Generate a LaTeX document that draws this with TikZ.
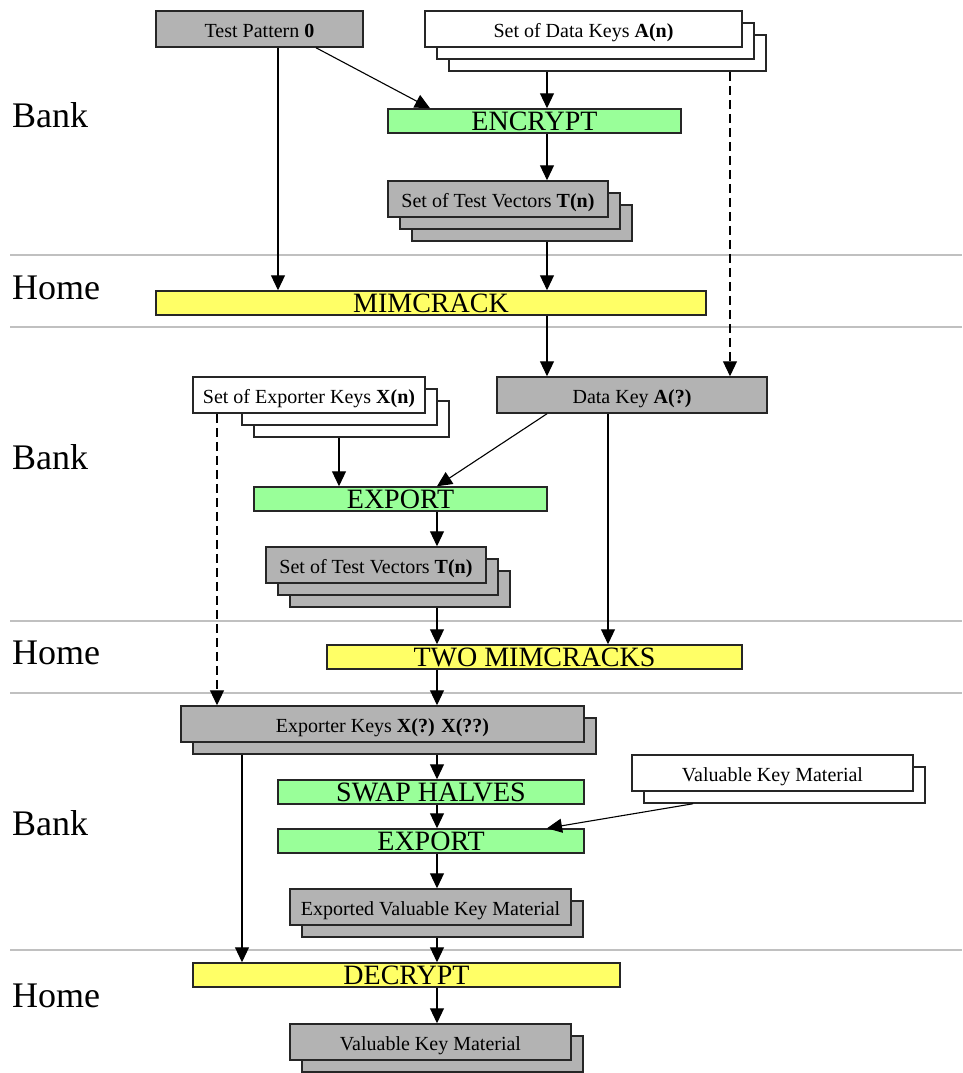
\documentclass[tikz,border=0pt]{standalone}
\usepackage{fontspec}
\setmainfont{Liberation Serif}
\usetikzlibrary{arrows.meta,shadows}
\usetikzlibrary{positioning}

\definecolor{boxgray}{HTML}{B3B3B3}
\definecolor{stepgreen}{HTML}{99FF99}
\definecolor{crackyellow}{HTML}{FFFF66}
\definecolor{bandgray}{HTML}{C0C0C0}

\tikzset{
  doc/.style={draw=black!85,line width=1.5pt,inner sep=0pt,minimum height=36pt,
    text height=16.5pt,text depth=0pt,font=\fontsize{20}{22}\selectfont},
  graydoc/.style={doc,fill=boxgray},
  whitedoc/.style={doc,fill=white},
  stepbox/.style={draw=black!85,line width=1.5pt,inner sep=0pt,minimum height=24pt,
    text height=19.5pt,text depth=0pt,font=\fontsize{28}{30}\selectfont},
  encbox/.style={stepbox,fill=stepgreen},
  crackbox/.style={stepbox,fill=crackyellow},
  one copy/.style={copy shadow={shadow xshift=12pt,shadow yshift=-12pt}},
  two copies/.style={copy shadow={shadow xshift=24pt,shadow yshift=-24pt},
    copy shadow={shadow xshift=12pt,shadow yshift=-12pt}},
  zone/.style={anchor=base west,inner sep=0pt,font=\fontsize{36}{40}\selectfont},
  band/.style={draw=bandgray,line width=1.5pt},
  flow/.style={line width=1.1pt,-{Triangle[length=15pt,width=14pt]}},
  dashflow/.style={flow,dash pattern=on 9pt off 5pt}
}

\begin{document}
\begin{tikzpicture}[x=1pt,y=-1pt]
  \useasboundingbox (0,0) rectangle (962,1073);
  % Bank / Home separators
  \draw[band] (10,255) -- (962,255);
  \draw[band] (10,327) -- (962,327);
  \draw[band] (10,621) -- (962,621);
  \draw[band] (10,693) -- (962,693);
  \draw[band] (10,950) -- (962,950);
  \node[zone] (bank1) at (12,127) {Bank};
  \node[zone] (home1) at (12,299) {Home};
  \node[zone] (bank2) at (12,469) {Bank};
  \node[zone] (home2) at (12,664) {Home};
  \node[zone] (bank3) at (12,835) {Bank};
  \node[zone] (home3) at (12,1007) {Home};
  % Place the boxes
  \node[graydoc,minimum width=207pt] (tp) at (259.5,29) {Test Pattern \textbf{0}};
  \node[whitedoc,two copies,minimum width=317pt] (dk) at (583.5,29) {Set of Data Keys \textbf{A(n)}};
  \node[encbox,minimum width=293pt] (enc) at (534.5,121) {ENCRYPT};
  \node[graydoc,two copies,minimum width=220pt] (tv1) at (498,199) {Set of Test Vectors \textbf{T(n)}};
  \node[crackbox,minimum width=550pt] (mim) at (431,303) {MIMCRACK};
  % the exporter key stack is narrower behind its front sheet
  \draw[line width=1.5pt,draw=black!85,fill=white] (254,401) rectangle (449,437);
  \draw[line width=1.5pt,draw=black!85,fill=white] (242,389) rectangle (437,425);
  \node[whitedoc,minimum width=232pt] (xk) at (309,395) {Set of Exporter Keys \textbf{X(n)}};
  \node[graydoc,minimum width=270pt] (dka) at (632,395) {Data Key \textbf{A(?)}};
  \node[encbox,minimum width=293pt] (exp1) at (400.5,499) {EXPORT};
  \node[graydoc,two copies,minimum width=220pt] (tv2) at (376,565) {Set of Test Vectors \textbf{T(n)}};
  \node[crackbox,minimum width=415pt] (two) at (534.5,657) {TWO MIMCRACKS};
  \node[graydoc,one copy,minimum width=403pt] (xq) at (382.5,724) {Exporter Keys \textbf{X(?) X(??)}};
  \node[encbox,minimum width=306pt] (swap) at (431,792) {SWAP HALVES};
  \node[whitedoc,one copy,minimum width=281pt] (vkw) at (772.5,773) {Valuable Key Material};
  \node[encbox,minimum width=306pt] (exp2) at (431,841) {EXPORT};
  \node[graydoc,one copy,minimum width=281pt] (evk) at (430.5,907) {Exported Valuable Key Material};
  \node[crackbox,minimum width=427pt] (dec) at (406.5,975) {DECRYPT};
  \node[graydoc,one copy,minimum width=281pt] (vk) at (430.5,1042) {Valuable Key Material};
  % Bottom edges of the stacks
  \coordinate (dk back) at ([yshift=-24pt]dk.south);
  \coordinate (tv1 back) at ([yshift=-24pt]tv1.south);
  \coordinate (xk back) at ([yshift=-24pt]xk.south);
  \coordinate (tv2 back) at ([yshift=-24pt]tv2.south);
  \coordinate (xq back) at ([yshift=-12pt]xq.south);
  \coordinate (vkw back) at ([yshift=-12pt]vkw.south);
  \coordinate (evk back) at ([yshift=-12pt]evk.south);
  % Columns of the vertical connectors
  \coordinate (colTP) at (278,0);
  \coordinate (colA) at (547,0);
  \coordinate (colD) at (730,0);
  \coordinate (colX) at (217,0);
  \coordinate (colXk) at (339,0);
  \coordinate (colB) at (437,0);
  \coordinate (colE) at (608,0);
  \coordinate (colL) at (242,0);
  % First bank step and first mimcrack
  \draw[flow] (tp.south -| colTP) -- (mim.north -| colTP);
  \draw[flow] ([xshift=56.5pt]tp.south) -- ([xshift=-104.5pt]enc.north);
  \draw[flow] (dk back -| colA) -- (enc.north -| colA);
  \draw[flow] (enc.south -| colA) -- (tv1.north -| colA);
  \draw[flow] (tv1 back -| colA) -- (mim.north -| colA);
  \draw[dashflow] (dk back -| colD) -- (dka.north -| colD);
  \draw[flow] (mim.south -| colA) -- (dka.north -| colA);
  % Second bank step and the two mimcracks
  \draw[dashflow] (xk.south -| colX) -- (xq.north -| colX);
  \draw[flow] (xk back -| colXk) -- (exp1.north -| colXk);
  \draw[flow] (dka.south -| colA) -- (exp1.north -| colB);
  \draw[flow] (dka.south -| colE) -- (two.north -| colE);
  \draw[flow] (exp1.south -| colB) -- (tv2.north -| colB);
  \draw[flow] (tv2 back -| colB) -- (two.north -| colB);
  \draw[flow] (two.south -| colB) -- (xq.north -| colB);
  % Last bank step and decryption at home
  \draw[flow] (xq back -| colB) -- (swap.north -| colB);
  \draw[flow] (swap.south -| colB) -- (exp2.north -| colB);
  \draw[flow] ([xshift=-79.5pt]vkw back) -- (exp2.north -| colA);
  \draw[flow] (exp2.south -| colB) -- (evk.north -| colB);
  \draw[flow] (evk back -| colB) -- (dec.north -| colB);
  \draw[flow] (xq back -| colL) -- (dec.north -| colL);
  \draw[flow] (dec.south -| colB) -- (vk.north -| colB);
\end{tikzpicture}
\end{document}
